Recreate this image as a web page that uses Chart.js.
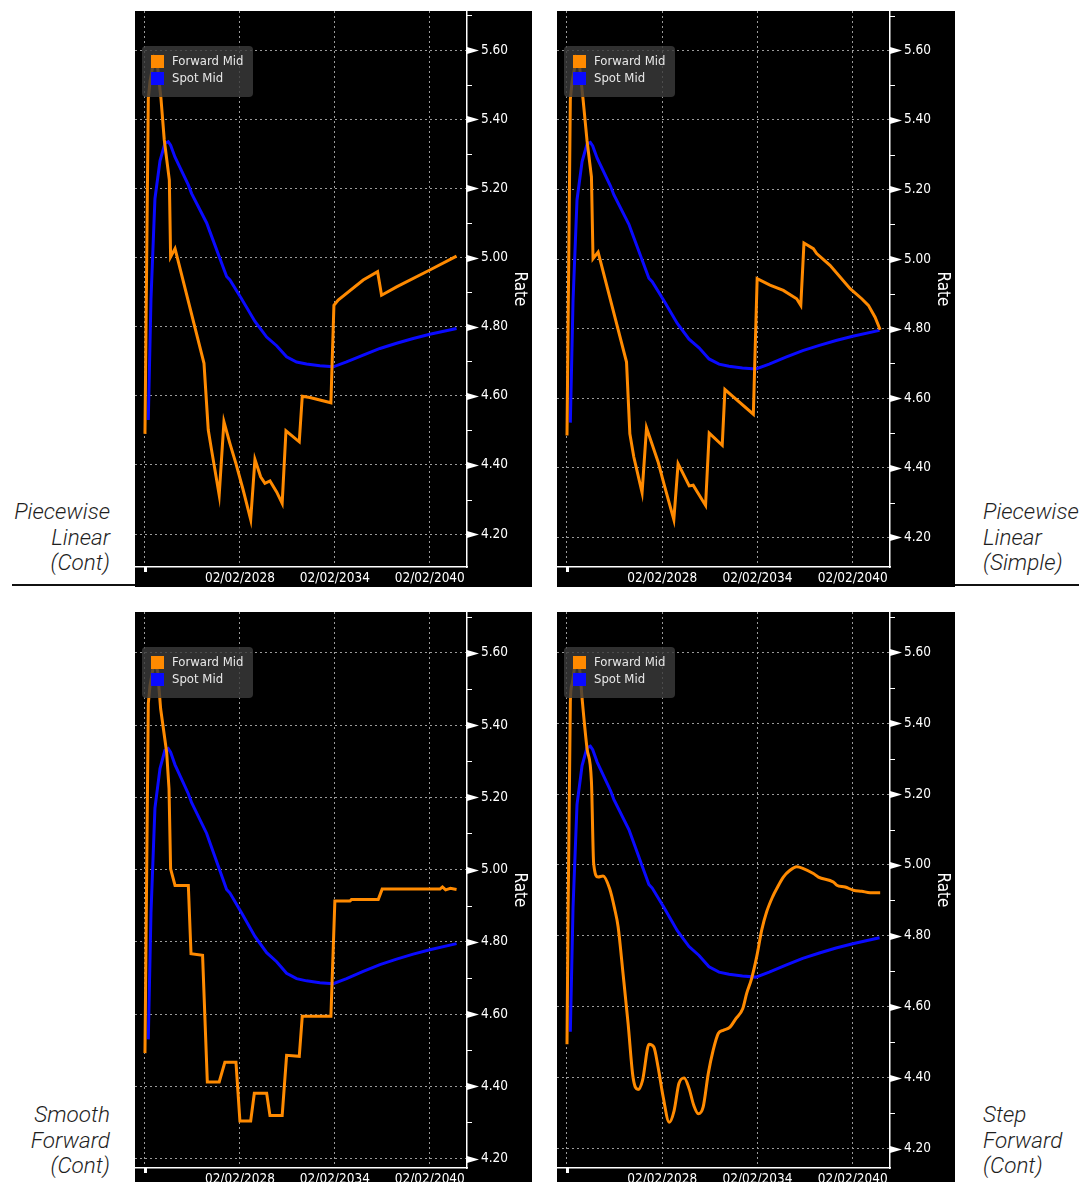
<!DOCTYPE html>
<html>
<head>
<meta charset="utf-8">
<script src="https://cdn.jsdelivr.net/npm/chart.js@4.4.1/dist/chart.umd.min.js"></script>
<style>
  html, body { margin: 0; padding: 0; background: #fff; }
  body { width: 1083px; height: 1182px; position: relative; overflow: hidden; }
  canvas { position: absolute; background: #000; }
  .lbl { position: absolute; font-family: Roboto, 'Liberation Sans', sans-serif; font-style: italic; font-weight: 300;
         font-size: 22.5px; line-height: 25.5px; color: #1e1e1e; white-space: nowrap; }
  .lbl.l { text-align: right; left: 0; width: 110px; }
  .lbl.r { text-align: left; left: 983px; }
  .rule { position: absolute; height: 2px; background: #111; top: 584px; }
</style>
</head>
<body>
<canvas id="plc" width="397" height="576" style="left:135px;top:11px"></canvas>
<canvas id="pls" width="398" height="576" style="left:557px;top:11px"></canvas>
<canvas id="sfc" width="397" height="576" style="left:135px;top:612px"></canvas>
<canvas id="stp" width="398" height="576" style="left:557px;top:612px"></canvas>

<div class="lbl l" style="top:499px">Piecewise<br>Linear<br>(Cont)</div>
<div class="lbl r" style="top:499px">Piecewise<br>Linear<br>(Simple)</div>
<div class="lbl l" style="top:1102px">Smooth<br>Forward<br>(Cont)</div>
<div class="lbl r" style="top:1102px">Step<br>Forward<br>(Cont)</div>
<div class="rule" style="left:12px;width:123px"></div>
<div class="rule" style="left:955px;width:124px"></div>

<script>
// x values are years after 02/02/2022
const xTickYears = [0, 6, 12, 18];
const xTickLabels = ['', '02/02/2028', '02/02/2034', '02/02/2040'];
const yTicks = [4.2, 4.4, 4.6, 4.8, 5.0, 5.2, 5.4, 5.6];
const yMinorTicks = [4.3, 4.5, 4.7, 4.9, 5.1, 5.3, 5.5, 5.7];
const seriesNames = ['Forward Mid', 'Spot Mid'];

// Spot Mid (same curve in all four panels)
const spotYears = [0.21, 0.38, 0.63, 0.95, 1.26, 1.47, 1.62, 1.90, 2.74, 2.95, 3.90, 4.06, 5.16, 5.37, 6.11,
  6.95, 7.69, 8.32, 8.95, 9.58, 10.21, 11.05, 11.90, 12.74, 13.79, 14.85, 15.90, 16.95, 18.00, 19.69];
const spotMid = [4.53, 4.88, 5.17, 5.28, 5.33, 5.335, 5.325, 5.29, 5.21, 5.185, 5.10, 5.08, 4.945, 4.935, 4.88,
  4.815, 4.77, 4.745, 4.713, 4.698, 4.692, 4.687, 4.684, 4.698, 4.718, 4.737, 4.752, 4.766, 4.778, 4.795];

// Piecewise Linear (Cont)
const plcYears = [0, 0.21, 0.32, 0.58, 0.8, 1.01, 1.22, 1.54, 1.62, 1.90, 3.73, 4.00, 4.21, 4.69, 4.99,
  5.37, 5.75, 6.21, 6.68, 6.95, 7.31, 7.58, 7.90, 8.32, 8.67, 8.91, 9.75, 9.94, 10.42, 11.75,
  11.94, 12.21, 13.79, 14.70, 14.95, 15.90, 18.00, 19.69];
const plcFwd = [4.49, 5.46, 5.51, 5.575, 5.55, 5.46, 5.34, 5.224, 5.002, 5.026, 4.694, 4.501, 4.443, 4.313, 4.525,
  4.462, 4.404, 4.327, 4.242, 4.416, 4.366, 4.347, 4.354, 4.322, 4.289, 4.499, 4.467, 4.599, 4.595, 4.580,
  4.862, 4.877, 4.935, 4.959, 4.891, 4.915, 4.964, 5.004];

// Piecewise Linear (Simple)
const plsYears = [0, 0.21, 0.32, 0.58, 0.8, 1.01, 1.26, 1.54, 1.64, 1.96, 3.75, 3.96, 4.21, 4.73, 5.01,
  5.74, 6.16, 6.73, 7.0, 7.7, 7.95, 8.73, 8.96, 9.78, 9.95, 10.37, 11.74, 11.98, 12.79, 13.63,
  14.47, 14.73, 14.93, 15.52, 15.73, 16.57, 17.84, 18.57, 18.99, 19.41, 19.73];
const plsFwd = [4.493, 5.46, 5.51, 5.575, 5.55, 5.46, 5.341, 5.236, 5.001, 5.02, 4.704, 4.498, 4.431, 4.329, 4.515,
  4.417, 4.345, 4.251, 4.412, 4.348, 4.35, 4.292, 4.500, 4.465, 4.625, 4.608, 4.554, 4.944, 4.925, 4.91,
  4.886, 4.867, 5.046, 5.03, 5.016, 4.982, 4.915, 4.886, 4.867, 4.833, 4.797];

// Smooth Forward (Cont)
const sfcYears = [0, 0.21, 0.32, 0.58, 0.8, 0.99, 1.37, 1.52, 1.62, 1.90, 2.74, 2.91, 3.64, 3.94, 4.69,
  5.05, 5.75, 6.0, 6.68, 6.91, 7.69, 7.90, 8.67, 8.95, 9.75, 9.94, 11.75, 12.0, 12.95, 13.05,
  14.74, 14.99, 18.64, 18.8, 19.0, 19.3, 19.69];
const sfcFwd = [4.492, 5.46, 5.51, 5.575, 5.55, 5.445, 5.325, 5.223, 5.002, 4.956, 4.956, 4.767, 4.763, 4.412, 4.412,
  4.467, 4.467, 4.304, 4.304, 4.381, 4.381, 4.319, 4.319, 4.486, 4.483, 4.594, 4.594, 4.913, 4.913, 4.917,
  4.917, 4.946, 4.946, 4.952, 4.944, 4.948, 4.945];

// Step Forward (Cont)
const stepYears = [0, 0.21, 0.32, 0.58, 0.8, 0.95, 1.26, 1.54, 1.68, 1.96, 2.27, 2.69, 3.0, 3.22, 3.53,
  3.85, 4.16, 4.48, 4.76, 5.17, 5.47, 5.74, 6.06, 6.44, 6.75, 7.05, 7.38, 7.70, 7.99, 8.27,
  8.58, 8.90, 9.21, 9.53, 9.84, 10.27, 10.64, 11.07, 11.32, 11.63, 11.95, 12.27, 12.58, 12.96, 13.21,
  13.63, 14.05, 14.47, 14.89, 15.52, 15.84, 16.78, 17.0, 17.52, 18.04, 18.57, 19.1, 19.73];
const stepFwd = [4.495, 5.46, 5.51, 5.575, 5.55, 5.47, 5.329, 5.235, 5.004, 4.966, 4.969, 4.933, 4.877, 4.826, 4.694,
  4.553, 4.402, 4.367, 4.393, 4.495, 4.487, 4.43, 4.346, 4.275, 4.308, 4.384, 4.40, 4.369, 4.322, 4.299,
  4.318, 4.412, 4.478, 4.525, 4.534, 4.543, 4.567, 4.595, 4.638, 4.680, 4.741, 4.817, 4.868, 4.911, 4.933,
  4.966, 4.985, 4.995, 4.99, 4.976, 4.966, 4.952, 4.943, 4.938, 4.929, 4.926, 4.922, 4.922];

const FONT = "'DejaVu Sans Condensed', 'Liberation Sans Narrow', 'DejaVu Sans', sans-serif";
const ORANGE = '#ff8a00';
const BLUE = '#0a0aff';

Chart.defaults.font.family = FONT;
Chart.defaults.color = '#fff';

// draws the tick arrows, minor ticks, start marker and the floating legend
const bbgMarks = {
  id: 'bbgMarks',
  afterDraw(chart) {
    const { ctx, chartArea: a, scales: { x, y } } = chart;
    ctx.save();
    ctx.fillStyle = '#fff';
    ctx.strokeStyle = '#fff';
    ctx.lineWidth = 1;
    yTicks.forEach(v => {
      const py = Math.round(y.getPixelForValue(v)) + 0.5;
      ctx.beginPath();
      ctx.moveTo(a.right, py - 3.5);
      ctx.lineTo(a.right + 12, py);
      ctx.lineTo(a.right, py + 3.5);
      ctx.closePath();
      ctx.fill();
    });
    yMinorTicks.forEach(v => {
      if (v < y.min || v > y.max) return;
      const py = Math.round(y.getPixelForValue(v)) + 0.5;
      ctx.beginPath();
      ctx.moveTo(a.right, py);
      ctx.lineTo(a.right + 5, py);
      ctx.stroke();
    });
    const px = x.getPixelForValue(xTickYears[0]);
    ctx.fillRect(Math.round(px) - 1, a.bottom, 3, 5);

    // legend box
    ctx.fillStyle = 'rgba(58,58,58,0.82)';
    ctx.beginPath();
    ctx.roundRect(a.left + 7, a.top + 35, 111, 51, 4);
    ctx.fill();
    const colors = [ORANGE, BLUE];
    ctx.font = '13px ' + FONT;
    ctx.textBaseline = 'middle';
    seriesNames.forEach((name, i) => {
      ctx.fillStyle = colors[i];
      ctx.fillRect(a.left + 16, a.top + 44 + i * 17, 13, 13);
      ctx.fillStyle = '#e8e8e8';
      ctx.fillText(name, a.left + 37, a.top + 51 + i * 17);
    });
    ctx.restore();
  }
};

function toPoints(xs, ys) {
  return xs.map((t, i) => ({ x: t, y: ys[i] }));
}

function makePanel(id, years, fwd, yMin, smooth) {
  new Chart(document.getElementById(id), {
    type: 'line',
    data: {
      datasets: [{
        label: seriesNames[0],
        data: toPoints(years, fwd),
        borderColor: ORANGE,
        borderWidth: 3,
        pointRadius: 0,
        cubicInterpolationMode: smooth ? 'monotone' : 'default',
        tension: 0
      }, {
        label: seriesNames[1],
        data: toPoints(spotYears, spotMid),
        borderColor: BLUE,
        borderWidth: 3,
        pointRadius: 0,
        tension: 0
      }]
    },
    options: {
      responsive: false,
      animation: false,
      devicePixelRatio: 1,
      layout: { padding: 0 },
      plugins: { legend: { display: false }, tooltip: { enabled: false } },
      scales: {
        x: {
          type: 'linear',
          min: -0.63,
          max: 20.35,
          afterBuildTicks: scale => { scale.ticks = xTickYears.map(v => ({ value: v })); },
          afterFit: scale => { scale.height = 20; scale.paddingLeft = 0; scale.paddingRight = 0; },
          grid: { color: '#9a9a9a', lineWidth: 1, drawTicks: false },
          border: { display: true, color: '#fff', width: 1.5, dash: [2, 3] },
          ticks: {
            color: '#fff',
            font: { size: 13.5 },
            padding: 3,
            maxRotation: 0,
            autoSkip: false,
            callback: (v, i) => xTickLabels[i]
          }
        },
        y: {
          type: 'linear',
          position: 'right',
          min: yMin,
          max: 5.713,
          afterBuildTicks: scale => { scale.ticks = yTicks.map(v => ({ value: v })); },
          afterFit: scale => { scale.width = 65; scale.paddingTop = 0; scale.paddingBottom = 0; },
          grid: { color: '#9a9a9a', lineWidth: 1, drawTicks: false },
          border: { display: true, color: '#fff', width: 1.5, dash: [2, 3] },
          ticks: {
            color: '#fff',
            font: { size: 13.5 },
            padding: 14,
            callback: v => v.toFixed(2)
          },
          title: {
            display: true,
            text: 'Rate',
            color: '#fff',
            font: { size: 17 },
            padding: { top: 2, bottom: 0 }
          }
        }
      }
    },
    plugins: [bbgMarks]
  });
}

makePanel('plc', plcYears, plcFwd, 4.105, false);
makePanel('pls', plsYears, plsFwd, 4.115, false);
makePanel('sfc', sfcYears, sfcFwd, 4.174, false);
makePanel('stp', stepYears, stepFwd, 4.146, true);
</script>
</body>
</html>
